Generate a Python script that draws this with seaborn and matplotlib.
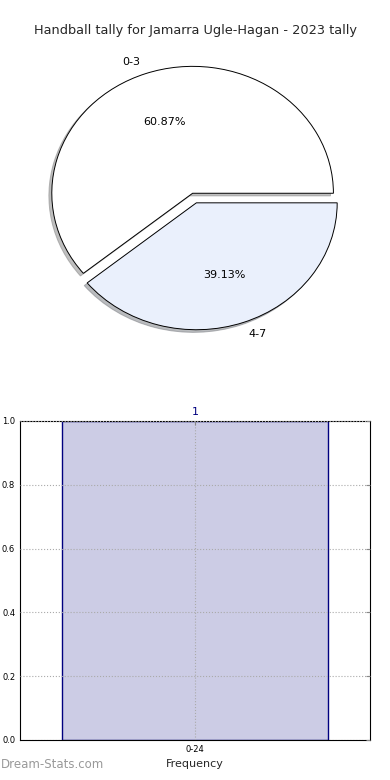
import matplotlib
matplotlib.use("Agg")
import matplotlib.pyplot as plt
import seaborn as sns
import pandas as pd

# dados do gráfico
pie_labels = ["0-3", "4-7"]
pie_values = [60.87, 39.13]
pie_colors = ["#ffffff", "#eaf0fc"]

bar_labels = ["0-24"]
bar_values = [1]

titulo = "Handball tally for Jamarra Ugle-Hagan - 2023 tally"

sns.set_style("white")
plt.rcParams['font.family'] = ['DejaVu Sans']

fig = plt.figure(figsize=(3.9, 7.8), dpi=100)

# pizza (elipse, sem aspecto igual)
ax1 = fig.add_axes([0.0474, 0.5346, 0.9026, 0.423])
wedges, texts, autotexts = ax1.pie(
    pie_values, labels=pie_labels, colors=pie_colors, autopct='%1.2f%%',
    explode=[0.04, 0.04], shadow={'ox': -0.015, 'oy': -0.015, 'shade': 0.5},
    startangle=0, counterclock=True,
    wedgeprops={'edgecolor': 'black', 'linewidth': 0.7},
    textprops={'fontsize': 8, 'color': 'black'})
ax1.set_aspect('auto')
ax1.set_xlim(-1.25, 1.25)
ax1.set_ylim(-1.3, 1.3)
ax1.axis('off')

fig.text(0.5, 0.961, titulo, ha='center', va='center', fontsize=9.3)

# barras
df = pd.DataFrame({'faixa': bar_labels, 'freq': bar_values})
ax2 = fig.add_axes([0.0513, 0.0513, 0.897, 0.409])
sns.barplot(data=df, x='faixa', y='freq', color='#ccccE5', saturation=1,
            edgecolor='#00007f', linewidth=1, width=0.76, ax=ax2)
ax2.set_xlim(-0.5, 0.5)
ax2.set_ylim(0, 1.0)
ax2.set_yticks([0.0, 0.2, 0.4, 0.6, 0.8, 1.0])
ax2.set_yticklabels(['0.0', '0.2', '0.4', '0.6', '0.8', '1.0'])
ax2.tick_params(labelsize=6, direction='in', right=True, top=True, length=3,
                colors='#888888', labelcolor='black')
ax2.grid(True, linestyle=':', color='#aaaaaa', linewidth=0.8)
ax2.set_axisbelow(False)
for s in ax2.spines.values():
    s.set_color('black')
    s.set_linewidth(0.8)
ax2.set_xlabel('Frequency', fontsize=8)
ax2.set_ylabel('')

for p, v in zip(ax2.patches, bar_values):
    ax2.text(p.get_x() + p.get_width() / 2, p.get_height() + 0.012, str(v),
             ha='center', va='bottom', fontsize=8, color='#00007f')

fig.text(0.003, 0.012, 'Dream-Stats.com', fontsize=8.5, color='#999999',
         ha='left', va='bottom')

fig.savefig('out.png', dpi=100)
